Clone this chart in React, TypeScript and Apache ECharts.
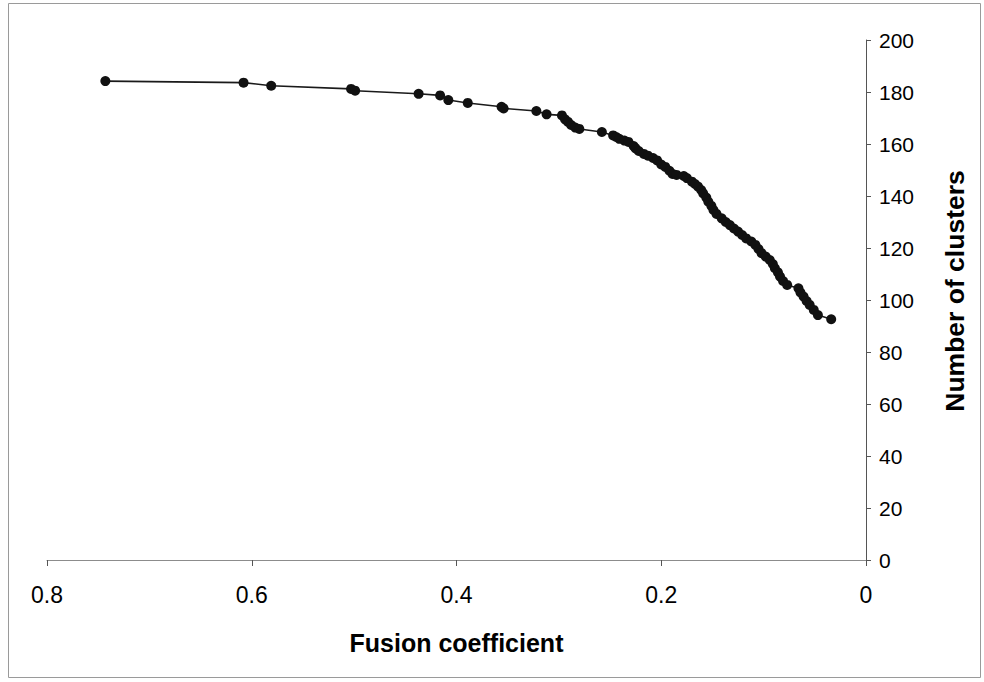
import React, { useEffect, useRef } from "react";
import * as echarts from "echarts";

const fusionCoefficient = [
  0.743, 0.608, 0.581, 0.503, 0.499, 0.437, 0.416, 0.408, 0.389, 0.356,
  0.354, 0.322, 0.312, 0.297, 0.294, 0.291, 0.288, 0.284, 0.28, 0.258,
  0.247, 0.244, 0.241, 0.236, 0.232, 0.227, 0.225, 0.222, 0.217, 0.213,
  0.208, 0.204, 0.2, 0.196, 0.192, 0.189, 0.185, 0.178, 0.175, 0.17,
  0.167, 0.164, 0.161, 0.159, 0.156, 0.154, 0.151, 0.149, 0.146, 0.141,
  0.137, 0.133, 0.129, 0.125, 0.121, 0.117, 0.112, 0.108, 0.105, 0.102,
  0.098, 0.094, 0.091, 0.089, 0.086, 0.084, 0.081, 0.077, 0.066, 0.064,
  0.061, 0.058, 0.055, 0.051, 0.047, 0.034,
];

const numberOfClusters = [
  184.2, 183.6, 182.4, 181.2, 180.5, 179.3, 178.7, 176.9, 175.8, 174.3,
  173.7, 172.7, 171.4, 171.0, 169.5, 168.5, 167.3, 166.3, 165.8, 164.6,
  163.3, 162.7, 162.0, 161.3, 160.8, 159.2, 158.3, 157.3, 156.2, 155.5,
  154.6, 153.7, 152.1, 151.2, 149.7, 148.5, 148.1, 147.7, 146.9, 145.5,
  144.6, 143.6, 142.3, 141.0, 139.4, 137.8, 136.2, 134.6, 133.1, 131.4,
  130.0, 128.8, 127.5, 126.3, 125.0, 123.7, 122.5, 121.2, 119.6, 118.0,
  116.7, 115.4, 113.8, 112.2, 110.6, 109.0, 107.3, 105.8, 104.5, 102.9,
  101.3, 99.6, 98.1, 96.2, 94.2, 92.6,
];

const xTitle = "Fusion coefficient";
const yTitle = "Number of clusters";

export default function App() {
  const ref = useRef<HTMLDivElement>(null);
  useEffect(() => {
    if (!ref.current) return;
    const chart = echarts.init(ref.current, null, { renderer: "svg" });
    const font = "'Liberation Sans', Arial, sans-serif";
    chart.setOption({
      animation: false,
      backgroundColor: "#ffffff",
      textStyle: { fontFamily: font },
      graphic: [
        {
          type: "rect",
          shape: { x: 8.5, y: 3.5, width: 972, height: 674 },
          style: { fill: "none", stroke: "#9a9a9a", lineWidth: 1 },
          silent: true,
        },
      ],
      grid: { left: 47, right: 118, top: 40, bottom: 122 },
      xAxis: {
        type: "value",
        inverse: true,
        min: 0,
        max: 0.8,
        interval: 0.2,
        position: "bottom",
        name: xTitle,
        nameLocation: "middle",
        nameGap: 70,
        nameTextStyle: { fontFamily: font, fontSize: 25, fontWeight: "bold", color: "#000" },
        axisLine: { show: true, lineStyle: { color: "#8c8c8c", width: 1 } },
        axisTick: { show: true, inside: false, length: 6, lineStyle: { color: "#555" } },
        axisLabel: {
          fontFamily: font,
          fontSize: 23,
          color: "#000",
          margin: 23,
          formatter: (v: number) => String(Number(v.toFixed(1))),
        },
        splitLine: { show: false },
      },
      yAxis: {
        type: "value",
        position: "right",
        min: 0,
        max: 200,
        interval: 20,
        name: yTitle,
        nameLocation: "middle",
        nameGap: 75,
        nameRotate: 90,
        nameTextStyle: {
          fontFamily: font,
          fontSize: 26.5,
          fontWeight: "bold",
          color: "#000",
          padding: [0, 0, 0, 18],
        },
        axisLine: { show: true, lineStyle: { color: "#555", width: 1 } },
        axisTick: { show: true, inside: false, length: 5, lineStyle: { color: "#555" } },
        axisLabel: { fontFamily: font, fontSize: 21, color: "#000", margin: 13 },
        splitLine: { show: false },
      },
      series: [
        {
          type: "line",
          data: fusionCoefficient.map((x, i) => [x, numberOfClusters[i]]),
          symbol: "circle",
          symbolSize: 10,
          showSymbol: true,
          lineStyle: { color: "#1a1a1a", width: 1.6 },
          itemStyle: { color: "#111" },
        },
      ],
    });
    return () => chart.dispose();
  }, []);
  return (
    <div
      ref={ref}
      style={{ position: "fixed", left: 0, top: 0, width: 984, height: 682 }}
    />
  );
}
